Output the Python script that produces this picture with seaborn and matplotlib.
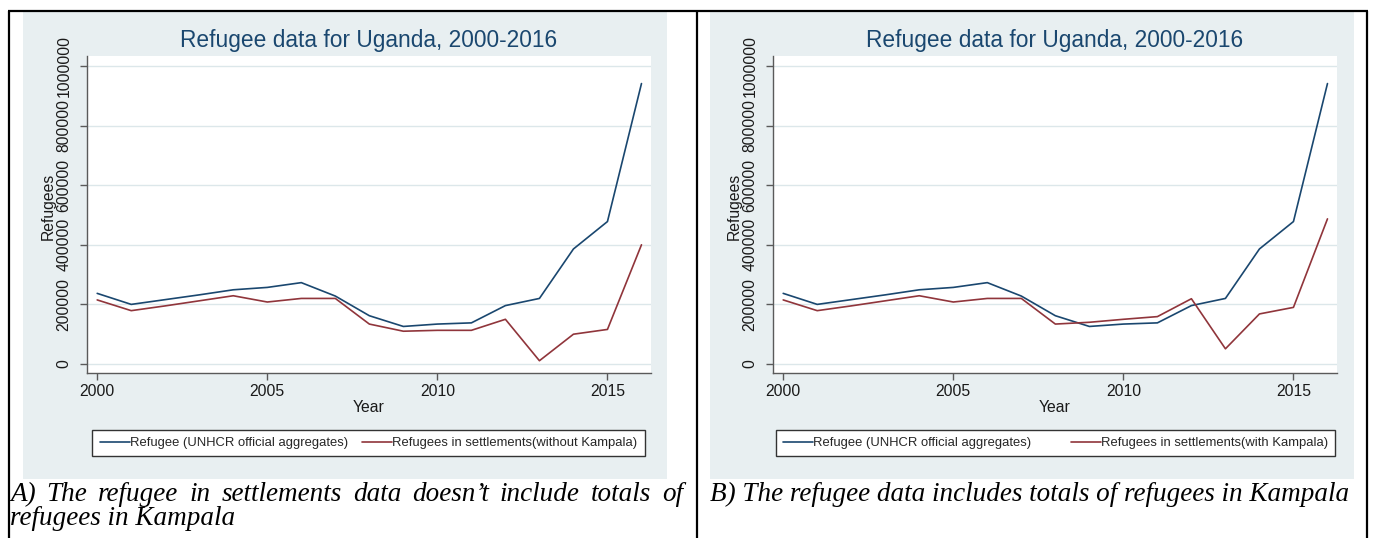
import matplotlib
matplotlib.use("Agg")
import matplotlib.pyplot as plt
from matplotlib.lines import Line2D
from matplotlib.patches import Rectangle
import seaborn as sns
import pandas as pd

# ---- data -------------------------------------------------------------
years = [2000, 2001, 2002, 2003, 2004, 2005, 2006, 2007, 2008,
         2009, 2010, 2011, 2012, 2013, 2014, 2015, 2016]

unhcr_total = [237000, 200000, 216000, 232000, 249000, 257000, 273000, 228000, 162000,
               126000, 134000, 138000, 196000, 220000, 386000, 478000, 941000]

settlements_without_kampala = [215000, 179000, 195000, 212000, 229000, 208000, 220000, 220000, 134000,
                               110000, 113000, 113000, 150000, 11000, 100000, 116000, 400000]

settlements_with_kampala = [215000, 179000, 195000, 212000, 229000, 208000, 220000, 220000, 134000,
                            140000, 150000, 159000, 219000, 51000, 168000, 190000, 487000]

y_ticks = [0, 200000, 400000, 600000, 800000, 1000000]
x_ticks = [2000, 2005, 2010, 2015]

title_text = "Refugee data for Uganda, 2000-2016"
label_total = "Refugee (UNHCR official aggregates)"
label_without = "Refugees in settlements(without Kampala)"
label_with = "Refugees in settlements(with Kampala)"
caption_a_line1 = "A) The refugee in settlements data doesn\u2019t include totals of"
caption_a_line2 = "refugees in Kampala"
caption_b = "B) The refugee data includes totals of refugees in Kampala"

# ---- style ------------------------------------------------------------
NAVY = "#1A476F"
MAROON = "#90353B"
REGION = "#E8EFF1"
GRID = "#DCE7EA"
AXIS = "#5A5A5A"

sns.set_theme(style="white")
plt.rcParams["font.family"] = ["Liberation Sans", "DejaVu Sans"]

W, H = 1375, 538
fig = plt.figure(figsize=(W / 100, H / 100), dpi=100)
fig.patch.set_facecolor("white")


def fx(px):
    return px / W


def fy(py):
    return 1 - py / H


def panel(region, plot_box, settle_vals, settle_label, legend_center, colsp):
    gx0, gx1, gy0, gy1 = region
    fig.patches.append(Rectangle((fx(gx0), fy(gy1)), (gx1 - gx0) / W, (gy1 - gy0) / H,
                                 transform=fig.transFigure, facecolor=REGION,
                                 edgecolor="none", zorder=-10))
    px0, px1, py0, py1 = plot_box
    ax = fig.add_axes([fx(px0), fy(py1), (px1 - px0) / W, (py1 - py0) / H])
    ax.set_zorder(1)
    ax.set_facecolor("white")

    df = pd.DataFrame({
        "Year": years + years,
        "Refugees": unhcr_total + settle_vals,
        "series": [label_total] * len(years) + [settle_label] * len(years),
    })
    sns.lineplot(data=df, x="Year", y="Refugees", hue="series",
                 palette={label_total: NAVY, settle_label: MAROON},
                 linewidth=1.2, legend=False, ax=ax)

    ax.set_xlim(1999.7, 2016.28)
    ax.set_ylim(-30200, 1033500)
    ax.set_xticks(x_ticks)
    ax.set_xticklabels([str(v) for v in x_ticks])
    ax.set_yticks(y_ticks)
    ax.set_yticklabels([str(v) for v in y_ticks], rotation=90, va="center")
    ax.grid(axis="y", color=GRID, linewidth=1.0)
    ax.grid(axis="x", visible=False)
    ax.set_axisbelow(True)
    for side in ("top", "right"):
        ax.spines[side].set_visible(False)
    for side in ("left", "bottom"):
        ax.spines[side].set_color(AXIS)
        ax.spines[side].set_linewidth(1.0)
    ax.tick_params(axis="both", direction="out", length=5, width=1.0, color=AXIS,
                   labelsize=11.3, labelcolor="#1a1a1a")
    ax.tick_params(axis="y", pad=6.0, left=True)
    ax.tick_params(axis="x", pad=3, bottom=True)
    ax.set_xlabel("")
    ax.set_ylabel("")

    cx = (px0 + px1) / 2
    fig.text(fx(cx), fy(40), title_text, ha="center", va="center",
             fontsize=16.4, color=NAVY)
    fig.text(fx(cx), fy(408), "Year", ha="center", va="center",
             fontsize=11.3, color="#1a1a1a")
    fig.text(fx(px0 - 39), fy(206), "Refugees", ha="center", va="center",
             rotation=90, fontsize=11.3, color="#1a1a1a")

    handles = [Line2D([], [], color=NAVY, lw=1.2), Line2D([], [], color=MAROON, lw=1.2)]
    leg = fig.legend(handles, [label_total, settle_label], ncol=2, loc="center",
                     bbox_to_anchor=(fx(legend_center[0]), fy(legend_center[1])),
                     bbox_transform=fig.transFigure, frameon=True, fancybox=False,
                     framealpha=1, facecolor="white", edgecolor="#333333",
                     fontsize=9.4, handlelength=2.3, handletextpad=0.0,
                     columnspacing=colsp, borderpad=0.55)
    leg.get_frame().set_linewidth(1.0)
    return ax


panel((23, 667, 12, 479), (87, 651, 56, 373), settlements_without_kampala,
      label_without, (368.5, 443), 1.1)
panel((710, 1354, 12, 479), (773, 1337, 56, 373), settlements_with_kampala,
      label_with, (1055.5, 443), 3.0)

# ---- table rules --------------------------------------------------------
rule = dict(transform=fig.transFigure, color="black", lw=1.6, solid_capstyle="butt")
fig.add_artist(Line2D([fx(8), fx(1368)], [fy(11), fy(11)], **rule))
for x in (9, 697, 1367):
    fig.add_artist(Line2D([fx(x), fx(x)], [fy(11), fy(538)], **rule))

# ---- captions -----------------------------------------------------------
cap_style = dict(family=["Liberation Serif", "DejaVu Serif"], style="italic",
                 fontsize=19.5, color="black", va="baseline", ha="left")

fig.text(fx(710), fy(501), caption_b, **cap_style)
fig.text(fx(10), fy(525), caption_a_line2, **cap_style)

# first caption line is justified between the cell edges
renderer = fig.canvas.get_renderer()
words = caption_a_line1.split(" ")
word_texts = [fig.text(0, fy(501), w, **cap_style) for w in words]
widths = [t.get_window_extent(renderer).width for t in word_texts]
left, right = 10, 683
gap = (right - left - sum(widths)) / (len(words) - 1)
xpos = left
for t, w in zip(word_texts, widths):
    t.set_x(fx(xpos))
    xpos += w + gap

fig.savefig("out.png", dpi=100, facecolor="white")
